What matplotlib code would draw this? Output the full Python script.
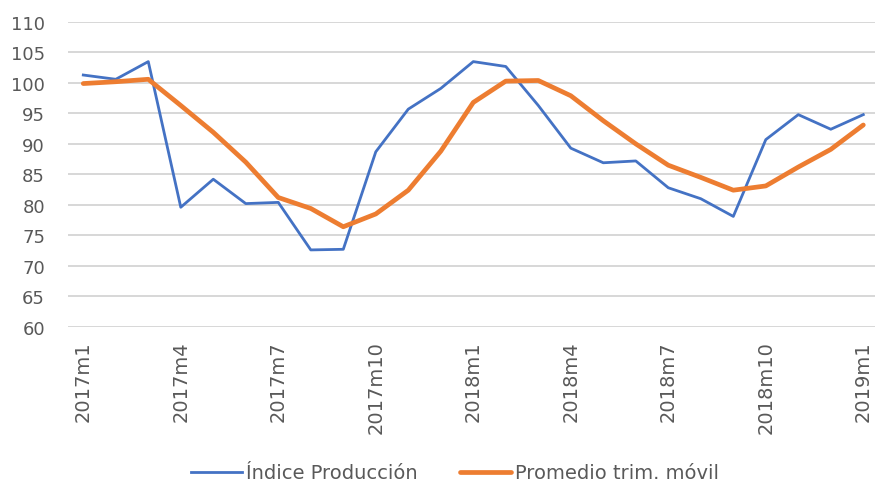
import matplotlib
matplotlib.use("Agg")
import matplotlib.pyplot as plt

# Datos (2017m1 .. 2019m1)
meses = [f"{a}m{m}" for a in (2017, 2018) for m in range(1, 13)] + ["2019m1"]
indice_produccion = [101.3, 100.6, 103.5, 79.6, 84.2, 80.2, 80.4, 72.6, 72.7,
                     88.7, 95.7, 99.1, 103.5, 102.7, 96.3, 89.3, 86.9, 87.2,
                     82.8, 81.0, 78.1, 90.7, 94.8, 92.4, 94.8]
promedio_trim = [99.9, 100.2, 100.6, 96.3, 91.9, 87.0, 81.2, 79.4, 76.4,
                 78.5, 82.4, 88.8, 96.8, 100.3, 100.4, 97.9, 93.8, 90.0,
                 86.5, 84.5, 82.4, 83.1, 86.2, 89.1, 93.1]

GRIS = "#595959"

fig = plt.figure(figsize=(8.75, 4.85), dpi=100)
ax = fig.add_axes([68 / 875, 1 - 327.7 / 485, 1 - 68 / 875, (327.7 - 23) / 485])

x = list(range(len(meses)))
ax.plot(x, indice_produccion, color="#4472C4", lw=2.0, label="Índice Producción",
        solid_joinstyle="round")
ax.plot(x, promedio_trim, color="#ED7D31", lw=3.4, label="Promedio trim. móvil",
        solid_joinstyle="round", solid_capstyle="round")

ax.set_ylim(60, 110)
ax.set_yticks(range(60, 111, 5))
ax.set_xlim(-0.47, 24.36)
ax.set_xticks(x[::3])
ax.set_xticklabels(meses[::3], rotation=90)

ax.grid(axis="y", color="#d4d4d4", lw=1.3)
ax.set_axisbelow(True)
for s in ax.spines.values():
    s.set_visible(False)
ax.tick_params(axis="both", length=0, colors=GRIS, labelsize=13)
ax.tick_params(axis="x", pad=10, labelsize=14)
ax.tick_params(axis="y", pad=16.5)

fig.legend(loc="center", bbox_to_anchor=(455 / 875, 1 - 474 / 485), ncol=2,
           frameon=False, fontsize=14, labelcolor=GRIS, handlelength=2.6,
           handletextpad=0.2, columnspacing=2.2)

fig.savefig("out.png", dpi=100)
